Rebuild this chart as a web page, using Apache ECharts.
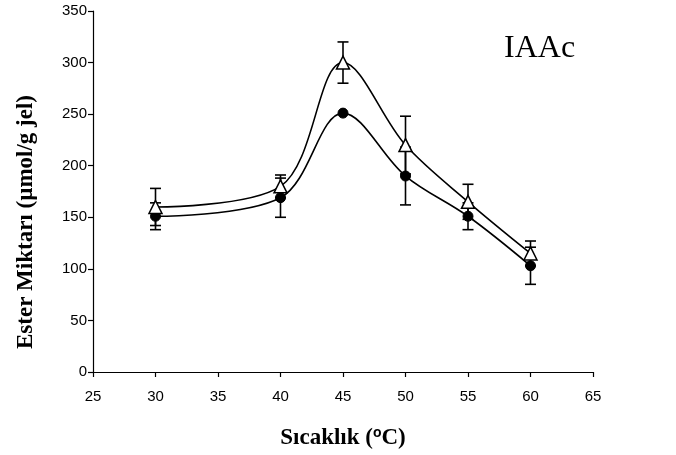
<!DOCTYPE html>
<html>
<head>
<meta charset="utf-8">
<script src="https://cdn.jsdelivr.net/npm/echarts@6/dist/echarts.min.js"></script>
<style>
  html, body { margin: 0; padding: 0; background: #fff; }
  #chart { width: 676px; height: 455px; }
</style>
</head>
<body>
<div id="chart"></div>
<script>
// Temperature (°C) at which ester yield was measured
var temps = [30, 40, 45, 50, 55, 60];
// Series 1 (filled circles): mean ester amount and error
var esterCircle = [151, 169, 251, 190, 151, 103];
var errCircle   = [13, 19, 0, 28, 13, 18];
// Series 2 (open triangles): mean ester amount and error
var esterTri = [160, 180, 300, 220, 165, 115];
var errTri   = [18, 11, 20, 28, 17, 12];

var xTicks = { min: 25, max: 65, interval: 5 };
var yTicks = { min: 0, max: 350, interval: 50 };

function pairs(xs, ys) {
  return xs.map(function (x, i) { return [x, ys[i]]; });
}
function errRows(xs, ys, es) {
  return xs.map(function (x, i) { return [x, ys[i] - es[i], ys[i] + es[i]]; });
}

// Vertical whisker with a short cap at each end
function errorBar(params, api) {
  var x = api.value(0);
  if (api.value(2) <= api.value(1)) { return null; }
  var lo = api.coord([x, api.value(1)]);
  var hi = api.coord([x, api.value(2)]);
  var half = 5.5;
  var style = { stroke: '#000', lineWidth: 1.6 };
  return {
    type: 'group',
    children: [
      { type: 'line', shape: { x1: lo[0], y1: lo[1], x2: hi[0], y2: hi[1] }, style: style },
      { type: 'line', shape: { x1: lo[0] - half, y1: lo[1], x2: lo[0] + half, y2: lo[1] }, style: style },
      { type: 'line', shape: { x1: hi[0] - half, y1: hi[1], x2: hi[0] + half, y2: hi[1] }, style: style }
    ]
  };
}

var chart = echarts.init(document.getElementById('chart'));
chart.setOption({
  animation: false,
  backgroundColor: '#fff',
  grid: { left: 93, right: 83, top: 11, bottom: 83 },
  xAxis: {
    type: 'value',
    min: xTicks.min, max: xTicks.max, interval: xTicks.interval,
    axisLine: { lineStyle: { color: '#000', width: 1.2 } },
    axisTick: { show: true, length: 5, lineStyle: { color: '#000', width: 1.2 } },
    axisLabel: { color: '#000', fontFamily: 'Liberation Sans', fontSize: 15, margin: 17 },
    splitLine: { show: false },
    name: '{t|Sıcaklık (}{s|o}{t|C)}',
    nameLocation: 'middle',
    nameGap: 54,
    nameTextStyle: {
      rich: {
        t: { fontFamily: 'Liberation Serif', fontWeight: 'bold', fontSize: 23, color: '#000' },
        s: { fontFamily: 'Liberation Sans', fontWeight: 'bold', fontSize: 14, color: '#000', verticalAlign: 'top', padding: [0, 0, 10, 0] }
      }
    }
  },
  yAxis: {
    type: 'value',
    min: yTicks.min, max: yTicks.max, interval: yTicks.interval,
    axisLine: { show: true, lineStyle: { color: '#000', width: 1.2 } },
    axisTick: { show: true, length: 5, lineStyle: { color: '#000', width: 1.2 } },
    axisLabel: { color: '#000', fontFamily: 'Liberation Sans', fontSize: 15, margin: 6 },
    splitLine: { show: false }
  },
  graphic: [
    {
      type: 'text',
      left: 504, top: 33,
      style: { text: 'IAAc', font: '32px "Liberation Serif"', fill: '#000' }
    },
    {
      // rotated y-axis title
      type: 'text',
      x: 26, y: 222,
      rotation: Math.PI / 2,
      style: {
        text: 'Ester Miktarı (µmol/g jel)',
        font: 'bold 23px "Liberation Serif"',
        fill: '#000',
        align: 'center',
        verticalAlign: 'middle'
      }
    }
  ],
  series: [
    {
      type: 'custom',
      renderItem: errorBar,
      data: errRows(temps, esterCircle, errCircle),
      encode: { x: 0, y: [1, 2] },
      z: 1
    },
    {
      type: 'custom',
      renderItem: errorBar,
      data: errRows(temps, esterTri, errTri),
      encode: { x: 0, y: [1, 2] },
      z: 1
    },
    {
      type: 'line',
      data: pairs(temps, esterCircle),
      smooth: 0.35,
      symbol: 'circle',
      symbolSize: 10,
      lineStyle: { color: '#000', width: 1.6 },
      itemStyle: { color: '#000', borderColor: '#000' },
      z: 3
    },
    {
      type: 'line',
      data: pairs(temps, esterTri),
      smooth: 0.35,
      symbol: 'triangle',
      symbolSize: 13,
      lineStyle: { color: '#000', width: 1.6 },
      itemStyle: { color: '#fff', borderColor: '#000', borderWidth: 1.5 },
      z: 3
    }
  ]
});
</script>
</body>
</html>
